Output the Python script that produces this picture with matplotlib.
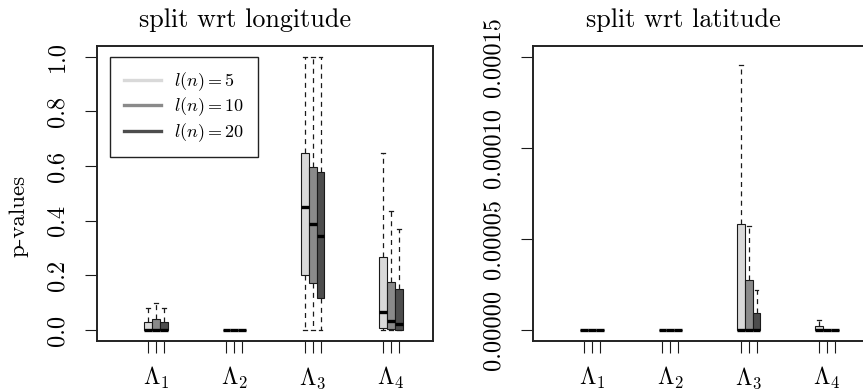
import matplotlib
matplotlib.use('Agg')
import matplotlib.pyplot as plt
from matplotlib.lines import Line2D
from matplotlib.transforms import blended_transform_factory

plt.rcParams['font.family'] = 'cmr10'
plt.rcParams['mathtext.fontset'] = 'cm'
plt.rcParams['axes.unicode_minus'] = False
plt.rcParams['axes.formatter.use_mathtext'] = True

# groups on the x axis and the three window lengths
groups = [r'$\Lambda_1$', r'$\Lambda_2$', r'$\Lambda_3$', r'$\Lambda_4$']
settings = [r'$l(n) = 5$', r'$l(n) = 10$', r'$l(n) = 20$']
colors = ['#d9d9d9', '#8a8a8a', '#4d4d4d']

# split wrt longitude: [group][setting]
lon_whislo = [[0, 0, 0], [0, 0, 0], [0, 0, 0], [0, 0, 0]]
lon_q1 = [[0, 0, 0], [0, 0, 0], [0.203, 0.171, 0.118], [0.006, 0.003, 0.002]]
lon_med = [[0, 0, 0], [0, 0, 0], [0.450, 0.389, 0.345], [0.065, 0.034, 0.024]]
lon_q3 = [[0.030, 0.039, 0.030], [0, 0, 0], [0.648, 0.596, 0.578], [0.266, 0.177, 0.150]]
lon_whishi = [[0.080, 0.098, 0.080], [0, 0, 0], [1.0, 1.0, 1.0], [0.649, 0.437, 0.370]]

# split wrt latitude: [group][setting]
lat_whislo = [[0, 0, 0], [0, 0, 0], [0, 0, 0], [0, 0, 0]]
lat_q1 = [[0, 0, 0], [0, 0, 0], [0, 0, 0], [0, 0, 0]]
lat_med = [[0, 0, 0], [0, 0, 0], [0, 0, 0], [0, 0, 0]]
lat_q3 = [[0, 0, 0], [0, 0, 0], [5.83e-5, 2.77e-5, 0.91e-5], [0.20e-5, 0, 0]]
lat_whishi = [[0, 0, 0], [0, 0, 0], [14.54e-5, 5.70e-5, 2.20e-5], [0.55e-5, 0, 0]]

lon_yticks = [0.0, 0.2, 0.4, 0.6, 0.8, 1.0]
lon_yticklabels = ['0.0', '0.2', '0.4', '0.6', '0.8', '1.0']
lat_yticks = [0.0, 5e-5, 10e-5, 15e-5]
lat_yticklabels = ['0.00000', '0.00005', '0.00010', '0.00015']

W, H = 863, 392
fig = plt.figure(figsize=(W / 100, H / 100), dpi=100)


def draw_panel(ax, whislo, q1, med, q3, whishi, yticks, yticklabels, ymax):
    for j in range(len(settings)):
        stats, pos = [], []
        for g in range(len(groups)):
            stats.append(dict(whislo=whislo[g][j], q1=q1[g][j], med=med[g][j],
                              q3=q3[g][j], whishi=whishi[g][j], fliers=[]))
            pos.append(10 * (g + 1) + (j - 1))
        ax.bxp(stats, positions=pos, widths=1.0, patch_artist=True,
               capwidths=0.5, showfliers=False,
               boxprops=dict(facecolor=colors[j], edgecolor='#1a1a1a', lw=0.8),
               medianprops=dict(color='black', lw=2.4, solid_capstyle='butt'),
               whiskerprops=dict(color='#1a1a1a', lw=0.9, linestyle=(0, (4, 3.5))),
               capprops=dict(color='#1a1a1a', lw=0.9))
    ax.set_xlim(2.47, 45.36)
    ax.set_ylim(-0.04 * ymax, 1.04 * ymax)
    ax.set_xticks([10 * (g + 1) + k for g in range(len(groups)) for k in (-1, 0, 1)])
    ax.set_xticklabels([])
    ax.set_yticks(yticks)
    ax.set_yticklabels(yticklabels, rotation=90, va='center', ha='right')
    ax.tick_params(axis='both', direction='out', length=8.6, width=0.8,
                   color='#1a1a1a', labelsize=17.5, pad=12)
    for s in ax.spines.values():
        s.set_linewidth(1.4)
        s.set_color('#222222')
    tr = blended_transform_factory(ax.transData, ax.transAxes)
    for g, name in enumerate(groups):
        ax.text(10 * (g + 1), -0.149, name, transform=tr, ha='center',
                va='baseline', fontsize=17)


ax1 = fig.add_axes([97 / W, (H - 341) / H, 336 / W, 295.3 / H])
draw_panel(ax1, lon_whislo, lon_q1, lon_med, lon_q3, lon_whishi,
           lon_yticks, lon_yticklabels, 1.0)

ax2 = fig.add_axes([533 / W, (H - 341) / H, 336 / W, 295.3 / H])
draw_panel(ax2, lat_whislo, lat_q1, lat_med, lat_q3, lat_whishi,
           lat_yticks, lat_yticklabels, 1.5e-4)

handles = [Line2D([], [], color=c, lw=2.4) for c in colors]
leg = ax1.legend(handles, settings, loc='upper left',
                 bbox_to_anchor=(13 / 336, 1 - 11 / 295.3), fontsize=13,
                 handlelength=2.1, handletextpad=0.7, labelspacing=0.15,
                 borderpad=0.75, borderaxespad=0, fancybox=False,
                 framealpha=1, edgecolor='#222222')
leg.get_frame().set_linewidth(1.0)

fig.text(245 / W, (H - 27) / H, 'split wrt longitude', ha='center',
         va='baseline', fontsize=18.8)
fig.text(683 / W, (H - 27) / H, 'split wrt latitude', ha='center',
         va='baseline', fontsize=18.8)
fig.text(19 / W, (H - 216) / H, 'p-values', rotation=90, ha='center',
         va='center', fontsize=16.5)

fig.savefig('out.png', dpi=100)
